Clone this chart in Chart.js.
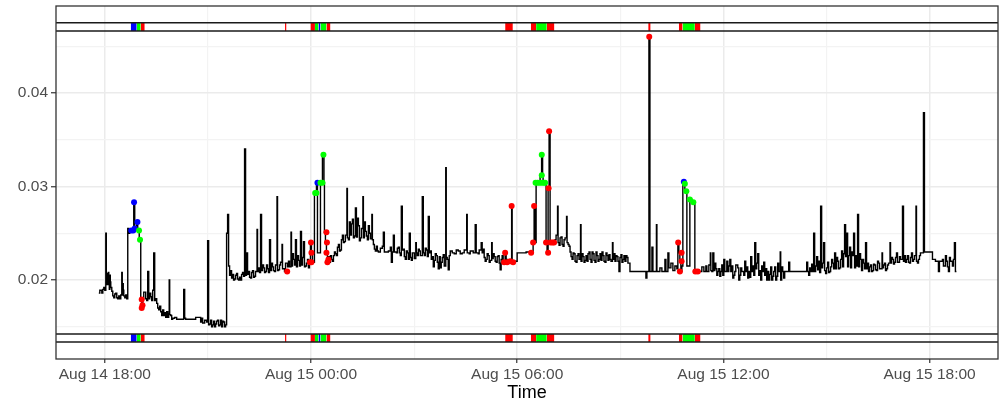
<!DOCTYPE html>
<html>
<head>
<meta charset="utf-8">
<script src="https://cdn.jsdelivr.net/npm/chart.js@4.4.0/dist/chart.umd.min.js"></script>
<style>
html,body{margin:0;padding:0;background:#ffffff;}
#wrap{width:1002px;height:404px;position:relative;}
</style>
</head>
<body>
<div id="wrap"><canvas id="c" width="1002" height="404"></canvas></div>
<script>
// Time axis: hours since Aug 14 00:00 (sample times; sorted before plotting)
const timeH = [
17.826,17.855,17.913,17.942,18.000,18.029,18.044,18.058,18.087,18.116,
18.131,18.145,18.174,18.203,18.232,18.290,18.348,18.406,18.435,18.465,
18.494,18.508,18.523,18.552,18.581,18.668,18.697,18.726,18.842,18.871,
18.929,18.958,19.002,19.031,19.046,19.075,19.104,19.191,19.249,19.278,
19.336,19.423,19.452,19.510,19.539,19.627,19.714,19.859,19.874,19.888,
19.975,20.295,20.324,20.789,20.818,20.963,20.992,21.021,21.079,21.108,
21.166,21.195,21.253,21.312,21.370,21.399,21.457,21.486,21.515,21.544,
21.573,21.602,21.631,21.660,21.689,21.747,21.805,21.863,21.921,21.951,
22.009,22.038,22.067,22.096,22.125,22.154,22.212,22.270,22.328,22.386,
22.430,22.444,22.473,22.532,22.561,22.619,22.677,22.735,22.793,22.822,
22.880,22.938,23.011,23.026,23.084,23.157,23.171,23.229,23.316,23.345,
23.418,23.432,23.490,23.548,23.577,23.636,23.694,23.723,23.781,23.810,
23.868,23.926,23.955,23.984,24.013,24.042,24.100,24.159,24.188,24.246,
24.275,24.333,24.377,24.391,24.420,24.449,24.478,24.507,24.595,24.653,
24.711,24.769,24.827,24.885,24.943,25.001,25.045,25.059,25.117,25.147,
25.205,25.234,25.292,25.321,25.379,25.408,25.466,25.510,25.524,25.582,
25.640,25.698,25.771,25.786,25.844,25.931,26.018,26.105,26.134,26.251,
26.338,26.367,26.396,26.425,26.512,26.570,26.628,26.657,26.715,26.773,
26.831,26.860,26.890,26.948,27.006,27.049,27.064,27.151,27.238,27.267,
27.354,27.413,27.442,27.529,27.587,27.645,27.703,27.732,27.790,27.848,
27.921,27.935,27.993,28.022,28.110,28.284,28.400,28.531,28.546,28.633,
28.720,28.778,28.807,28.894,28.952,28.981,29.039,29.097,29.156,29.214,
29.257,29.272,29.330,29.359,29.417,29.504,29.533,29.591,29.649,29.707,
29.766,29.838,29.853,29.911,29.998,30.259,30.376,30.463,30.492,30.521,
30.550,30.666,30.710,30.739,30.753,30.840,30.869,30.899,30.928,30.957,
31.015,31.073,31.131,31.174,31.189,31.247,31.305,31.363,31.436,31.451,
31.509,31.567,31.625,31.683,31.741,31.799,31.843,31.857,31.915,31.973,
32.061,32.119,32.177,32.235,32.322,32.380,32.467,32.525,32.612,32.700,
32.772,32.787,32.874,32.961,32.990,33.077,33.164,33.281,33.745,33.774,
33.833,33.862,33.920,33.949,34.051,34.065,34.152,34.210,34.298,34.327,
34.385,34.414,34.472,34.530,34.588,34.646,34.675,34.704,34.733,34.762,
34.791,34.820,34.878,34.937,35.024,35.082,35.169,35.489,35.518,35.620,
35.634,35.692,35.721,35.779,35.837,35.895,35.924,36.011,36.040,36.099,
36.128,36.186,36.215,36.273,36.331,36.418,36.476,36.534,36.621,36.650,
36.708,36.737,36.795,36.825,36.912,36.941,36.999,37.028,37.086,37.144,
37.173,37.202,37.260,37.289,37.348,37.406,37.464,37.522,37.580,37.609,
37.653,37.667,37.725,37.900,37.929,38.423,38.452,38.510,38.539,38.626,
38.655,38.713,38.742,38.829,38.858,38.916,38.945,39.003,39.062,39.120,
39.178,39.236,39.265,39.323,39.381,39.439,39.468,39.526,39.555,39.584,
39.614,39.672,39.701,39.759,39.788,39.817,39.904,39.933,39.991,40.020,
40.078,40.136,40.165,40.253,40.311,40.369,40.427,40.485,40.543,40.616,
40.630,40.688,40.746,40.804,40.848,40.863,40.921,40.979,41.037,41.124,
41.211,41.240,41.327,41.386,41.473,41.502,41.604,41.618,41.676,41.734,
41.821,41.850,42.083,42.170,42.257,42.286,42.373,42.461,42.490,42.548,
42.606,42.722,42.751,42.780,
// additional samples
17.971,18.073,18.102,18.160,18.261,18.319,18.377,18.537,18.610,18.639,
19.133,19.220,19.307,19.365,19.394,19.481,19.568,19.597,19.656,19.685,
19.743,19.772,19.801,19.830,19.917,19.946,20.033,20.091,20.353,20.498,
20.644,20.847,20.905,21.050,21.137,21.224,21.282,21.341,21.428,
21.718,21.776,21.834,21.892,21.980,
22.183,22.241,22.299,22.357,22.503,22.590,22.648,22.706,22.764,22.851,
22.909,22.967,23.055,23.113,23.200,23.258,23.374,23.461,23.519,23.606,
23.665,23.752,23.839,23.897,
24.537,24.566,24.624,24.682,24.740,24.798,24.856,24.914,24.972,25.088,
25.176,25.263,25.350,25.437,25.553,25.611,25.669,25.728,25.815,25.873,
25.902,25.960,26.076,26.193,26.309,
26.483,26.541,26.599,26.686,26.744,26.802,26.919,26.977,27.093,27.122,
27.180,27.296,27.325,27.384,27.471,27.500,27.558,27.616,27.674,27.761,
27.819,27.877,27.964,28.052,28.168,28.226,28.342,28.458,28.604,28.865,
29.010,29.068,29.126,29.185,29.301,29.388,29.446,29.475,29.562,29.620,
29.678,29.737,
31.102,31.218,31.276,31.334,31.392,31.480,31.538,31.596,31.654,31.712,
31.770,31.886,31.944,32.002,32.032,32.090,32.148,32.206,32.264,32.293,
32.351,32.409,32.438,32.496,32.554,32.583,32.641,32.670,32.729,32.816,
32.845,32.903,32.932,33.019,33.048,33.106,33.135,33.193,33.222,
35.372,35.431,35.576,35.663,35.750,35.808,35.866,35.953,35.982,36.069,
36.157,36.244,36.302,36.360,36.447,36.505,36.592,36.679,36.766,36.854,
36.883,36.970,37.057,37.115,37.231,37.318,37.377,37.435,37.493,37.551,
37.696,37.754,37.783,
38.481,38.568,38.597,38.684,38.771,38.800,38.887,38.974,39.033,39.091,
39.149,39.207,39.294,39.352,39.410,39.497,39.643,39.730,39.846,39.875,
39.962,40.049,40.107,40.194,40.223,40.282,40.340,40.398,40.456,40.514,
40.572,40.659,40.717,40.775,40.892,40.950,41.008,41.066,41.153,41.269,
41.298,41.357,41.415,41.444,41.531,41.560,41.647,41.705,
42.402,42.519,42.577,42.664,42.693
];
const conc = [
0.0186,0.0189,0.0186,0.0190,0.0189,0.0250,0.0195,0.0207,0.0195,0.0200,
0.0190,0.0205,0.0192,0.0188,0.0183,0.0185,0.0181,0.0183,0.0180,0.0184,
0.0208,0.0184,0.0196,0.0183,0.0181,0.0255,0.0250,0.0253,0.0283,0.0255,
0.0262,0.0253,0.0245,0.0243,0.0180,0.0171,0.0180,0.0180,0.0209,0.0180,
0.0182,0.0229,0.0178,0.0175,0.0170,0.0166,0.0162,0.0164,0.0200,0.0163,
0.0159,0.0190,0.0159,0.0155,0.0159,0.0155,0.0242,0.0152,0.0157,0.0150,
0.0156,0.0150,0.0156,0.0151,0.0157,0.0150,0.0155,0.0150,0.0152,0.0250,
0.0270,0.0215,0.0205,0.0210,0.0202,0.0200,0.0205,0.0201,0.0203,0.0200,
0.0208,0.0204,0.0340,0.0205,0.0229,0.0206,0.0203,0.0208,0.0203,0.0209,
0.0254,0.0209,0.0213,0.0270,0.0210,0.0213,0.0209,0.0212,0.0243,0.0210,
0.0214,0.0209,0.0289,0.0210,0.0216,0.0238,0.0212,0.0209,0.0214,0.0220,
0.0251,0.0215,0.0222,0.0243,0.0214,0.0221,0.0252,0.0216,0.0241,0.0214,
0.0218,0.0213,0.0219,0.0240,0.0229,0.0219,0.0293,0.0304,0.0229,0.0229,
0.0304,0.0334,0.0304,0.0251,0.0240,0.0229,0.0219,0.0225,0.0222,0.0226,
0.0228,0.0235,0.0231,0.0243,0.0240,0.0248,0.0298,0.0245,0.0262,0.0248,
0.0265,0.0245,0.0277,0.0246,0.0258,0.0242,0.0255,0.0289,0.0245,0.0252,
0.0243,0.0250,0.0270,0.0243,0.0233,0.0231,0.0234,0.0251,0.0230,0.0231,
0.0219,0.0230,0.0248,0.0230,0.0234,0.0229,0.0279,0.0232,0.0225,0.0231,
0.0222,0.0250,0.0224,0.0229,0.0223,0.0240,0.0229,0.0231,0.0289,0.0229,
0.0232,0.0268,0.0229,0.0225,0.0221,0.0226,0.0212,0.0225,0.0219,0.0227,
0.0320,0.0224,0.0211,0.0226,0.0229,0.0231,0.0229,0.0270,0.0229,0.0231,
0.0229,0.0259,0.0229,0.0232,0.0240,0.0229,0.0224,0.0222,0.0226,0.0221,
0.0240,0.0223,0.0225,0.0220,0.0225,0.0211,0.0222,0.0219,0.0229,0.0219,
0.0218,0.0279,0.0219,0.0220,0.0229,0.0230,0.0229,0.0240,0.0279,0.0240,
0.0304,0.0312,0.0334,0.0312,0.0304,0.0240,0.0229,0.0298,0.0359,0.0240,
0.0242,0.0240,0.0248,0.0279,0.0240,0.0245,0.0238,0.0243,0.0268,0.0240,
0.0236,0.0225,0.0229,0.0220,0.0226,0.0222,0.0259,0.0220,0.0225,0.0221,
0.0228,0.0222,0.0230,0.0221,0.0226,0.0222,0.0230,0.0220,0.0226,0.0222,
0.0240,0.0222,0.0226,0.0209,0.0224,0.0222,0.0226,0.0209,0.0202,0.0209,
0.0460,0.0209,0.0235,0.0209,0.0259,0.0209,0.0213,0.0209,0.0222,0.0209,
0.0229,0.0213,0.0218,0.0210,0.0215,0.0212,0.0240,0.0229,0.0220,0.0209,
0.0215,0.0304,0.0295,0.0215,0.0286,0.0283,0.0209,0.0215,0.0209,0.0229,
0.0210,0.0229,0.0210,0.0212,0.0209,0.0204,0.0209,0.0222,0.0209,0.0220,
0.0209,0.0222,0.0209,0.0202,0.0209,0.0213,0.0205,0.0209,0.0220,0.0209,
0.0202,0.0209,0.0225,0.0209,0.0240,0.0212,0.0228,0.0205,0.0200,0.0209,
0.0219,0.0205,0.0200,0.0209,0.0206,0.0200,0.0209,0.0200,0.0218,0.0209,
0.0230,0.0200,0.0209,0.0219,0.0209,0.0219,0.0209,0.0213,0.0209,0.0250,
0.0209,0.0225,0.0211,0.0279,0.0213,0.0240,0.0210,0.0213,0.0208,0.0214,
0.0218,0.0229,0.0212,0.0220,0.0213,0.0231,0.0214,0.0259,0.0225,0.0250,
0.0214,0.0235,0.0213,0.0226,0.0250,0.0213,0.0270,0.0214,0.0222,0.0210,
0.0218,0.0240,0.0212,0.0214,0.0209,0.0217,0.0211,0.0220,0.0212,0.0229,
0.0213,0.0218,0.0212,0.0218,0.0240,0.0218,0.0222,0.0219,0.0229,0.0225,
0.0279,0.0220,0.0222,0.0219,0.0229,0.0220,0.0279,0.0220,0.0222,0.0229,
0.0379,0.0230,0.0222,0.0220,0.0209,0.0220,0.0222,0.0226,0.0220,0.0209,
0.0220,0.0240,0.0209,0.0209,
// additional samples
0.0192,0.0200,0.0208,0.0198,0.0181,0.0186,0.0180,0.0189,0.0184,0.0180,
0.0187,0.0178,0.0186,0.0178,0.0189,0.0180,0.0168,0.0172,0.0162,0.0168,
0.0165,0.0160,0.0166,0.0160,0.0162,0.0158,0.0160,0.0158,0.0158,0.0158,
0.0160,0.0154,0.0157,0.0153,0.0152,0.0153,0.0157,0.0152,0.0156,
0.0206,0.0201,0.0207,0.0200,0.0206,
0.0209,0.0202,0.0210,0.0204,0.0208,0.0216,0.0208,0.0216,0.0208,0.0218,
0.0210,0.0216,0.0211,0.0219,0.0212,0.0218,0.0214,0.0228,0.0216,0.0226,
0.0215,0.0224,0.0215,0.0222,
0.0219,0.0226,0.0220,0.0230,0.0226,0.0238,0.0232,0.0248,0.0241,0.0243,
0.0260,0.0247,0.0266,0.0245,0.0262,0.0247,0.0258,0.0244,0.0238,0.0231,
0.0236,0.0230,0.0236,0.0230,0.0235,
0.0229,0.0235,0.0226,0.0233,0.0222,0.0229,0.0221,0.0229,0.0226,0.0233,
0.0226,0.0226,0.0234,0.0225,0.0231,0.0222,0.0214,0.0228,0.0219,0.0213,
0.0224,0.0215,0.0222,0.0231,0.0228,0.0232,0.0228,0.0232,0.0228,0.0228,
0.0233,0.0220,0.0228,0.0219,0.0228,0.0219,0.0226,0.0218,0.0226,0.0218,
0.0222,0.0219,
0.0243,0.0237,0.0246,0.0236,0.0245,0.0238,0.0230,0.0222,0.0228,0.0219,
0.0228,0.0228,0.0219,0.0226,0.0220,0.0230,0.0219,0.0228,0.0219,0.0230,
0.0220,0.0228,0.0221,0.0226,0.0219,0.0229,0.0221,0.0227,0.0220,0.0228,
0.0220,0.0225,0.0220,0.0227,0.0219,0.0226,0.0220,0.0224,0.0218,
0.0214,0.0209,0.0216,0.0209,0.0218,0.0205,0.0212,0.0216,0.0205,0.0209,
0.0215,0.0215,0.0205,0.0216,0.0200,0.0213,0.0205,0.0214,0.0203,0.0215,
0.0205,0.0218,0.0210,0.0215,0.0212,0.0200,0.0214,0.0204,0.0214,0.0204,
0.0214,0.0202,0.0209,
0.0205,0.0217,0.0209,0.0215,0.0220,0.0208,0.0218,0.0207,0.0219,0.0209,
0.0222,0.0212,0.0224,0.0212,0.0222,0.0228,0.0226,0.0230,0.0226,0.0215,
0.0228,0.0222,0.0212,0.0218,0.0209,0.0216,0.0210,0.0216,0.0210,0.0218,
0.0212,0.0216,0.0210,0.0216,0.0224,0.0217,0.0224,0.0219,0.0222,0.0226,
0.0219,0.0226,0.0218,0.0224,0.0222,0.0226,0.0218,0.0226,
0.0215,0.0214,0.0224,0.0215,0.0222
];

// Flagged points
const blueT  = [18.770,18.828,18.871,18.851,18.950,24.188,34.849];
const blueV  = [0.0253,0.0253,0.0255,0.0283,0.0262,0.0304,0.0305];
const greenT = [18.996,19.025,24.121,24.159,24.275,24.333,24.362,30.535,30.593,30.651,30.710,30.768,30.811,30.715,30.715,34.878,34.921,35.024,35.125];
const greenV = [0.0253,0.0243,0.0293,0.0293,0.0304,0.0304,0.0334,0.0304,0.0304,0.0304,0.0304,0.0304,0.0304,0.0312,0.0334,0.0303,0.0295,0.0286,0.0283];
const redT   = [19.074,19.074,19.097,23.307,23.999,24.013,24.013,23.970,24.449,24.464,24.449,24.478,24.507,29.649,29.620,29.707,29.795,29.882,29.838,30.405,30.463,30.492,30.913,30.928,30.840,30.899,30.971,31.029,31.073,33.842,34.684,34.783,34.783,34.733,35.183,35.256];
const redV   = [0.0179,0.0170,0.0173,0.0209,0.0240,0.0229,0.0219,0.0219,0.0251,0.0240,0.0229,0.0219,0.0222,0.0229,0.0219,0.0219,0.0220,0.0219,0.0279,0.0229,0.0240,0.0279,0.0298,0.0359,0.0240,0.0229,0.0240,0.0240,0.0240,0.0460,0.0240,0.0229,0.0220,0.0209,0.0209,0.0209];

// Event strips (start/end hours and class)
const stripStart = [18.755,18.929,19.046,23.244,23.984,24.115,24.217,24.275,24.449,29.649,30.396,30.550,30.861,33.812,34.704,34.811,35.169];
const stripEnd   = [18.929,19.046,19.162,23.287,24.115,24.217,24.275,24.449,24.566,29.873,30.550,30.861,31.082,33.882,34.811,35.169,35.334];
const stripClass = ['blue','green','red','red','red','green','blue','green','red','red','red','green','red','red','red','green','red'];
const topBand    = [0.04663, 0.04752];
const bottomBand = [0.01337, 0.01422];

// Axes
const xRange = [16.58, 43.99];
const yRange = [0.01155, 0.0493];
const xTickHours  = [18, 24, 30, 36, 42];
const xTickLabels = ['Aug 14 18:00','Aug 15 00:00','Aug 15 06:00','Aug 15 12:00','Aug 15 18:00'];
const xMinorHours = [21, 27, 33, 39];
const yTicks      = [0.02, 0.03, 0.04];
const yMinor      = [0.015, 0.025, 0.035, 0.045];

const COLORS = {blue:'#0000FF', green:'#00FF00', red:'#FF0000'};
const FONT = "'Liberation Sans', Arial, Helvetica, sans-serif";

const datasets = [];
function pts(T, V) { return T.map((t, i) => ({x: t, y: V[i]})); }
[['blue', blueT, blueV], ['green', greenT, greenV], ['red', redT, redV]].forEach(([k, T, V]) => {
  datasets.push({
    data: pts(T, V), showLine: false, pointRadius: 3, pointHoverRadius: 3,
    pointBackgroundColor: COLORS[k], pointBorderWidth: 0, pointBorderColor: COLORS[k],
    order: k === 'red' ? 0 : (k === 'green' ? 1 : 2)
  });
});
const series = pts(timeH, conc).sort((a, b) => a.x - b.x);
datasets.push({
  data: series, borderColor: '#000000', borderWidth: 1.4, pointRadius: 0,
  stepped: true, fill: false, order: 5
});
[topBand, bottomBand].forEach(band => {
  band.forEach(v => {
    datasets.push({
      data: [{x: xRange[0], y: v}, {x: xRange[1], y: v}],
      borderColor: '#1A1A1A', borderWidth: 1.5, pointRadius: 0, fill: false, order: 6
    });
  });
  stripStart.forEach((s, i) => {
    const col = COLORS[stripClass[i]];
    datasets.push({
      data: [{x: s, y: band[1]}, {x: stripEnd[i], y: band[1]}],
      borderWidth: 0, borderColor: col, backgroundColor: col, pointRadius: 0,
      fill: {target: {value: band[0]}, above: col, below: col}, order: 10
    });
  });
});

const panelBorder = {
  id: 'panelBorder',
  afterDatasetsDraw(chart) {
    const {ctx, chartArea: a} = chart;
    ctx.save();
    ctx.strokeStyle = '#333333';
    ctx.lineWidth = 1.3;
    ctx.strokeRect(a.left, a.top, a.right - a.left, a.bottom - a.top);
    ctx.restore();
  }
};

const isMajor = (arr, v) => arr.some(m => Math.abs(m - v) < 1e-9);

new Chart(document.getElementById('c'), {
  type: 'line',
  data: {datasets},
  plugins: [panelBorder],
  options: {
    responsive: false, animation: false, devicePixelRatio: 1,
    layout: {autoPadding: false, padding: {left: 0, right: 4, top: 6, bottom: 0}},
    plugins: {legend: {display: false}, tooltip: {enabled: false}},
    scales: {
      x: {
        type: 'linear', min: xRange[0], max: xRange[1],
        afterBuildTicks: s => { s.ticks = xTickHours.concat(xMinorHours).sort((a, b) => a - b).map(v => ({value: v})); },
        afterFit: s => { s.height = 45; s.paddingLeft = 0; s.paddingRight = 0; },
        border: {display: false},
        grid: {
          color: c => (c.tick && isMajor(xTickHours, c.tick.value)) ? '#EBEBEB' : '#F3F3F3',
          lineWidth: c => (c.tick && isMajor(xTickHours, c.tick.value)) ? 1.5 : 1.2,
          tickColor: c => (c.tick && isMajor(xTickHours, c.tick.value)) ? '#333333' : 'rgba(0,0,0,0)',
          tickLength: 4, tickWidth: 1.2
        },
        ticks: {
          autoSkip: false, maxRotation: 0, padding: 2, color: '#4D4D4D',
          font: {family: FONT, size: 15.5},
          callback: v => { const i = xTickHours.findIndex(m => Math.abs(m - v) < 1e-9); return i >= 0 ? xTickLabels[i] : ''; }
        },
        title: {display: true, text: 'Time', color: '#000000', font: {family: FONT, size: 18}, padding: {top: 0, bottom: 0}}
      },
      y: {
        type: 'linear', min: yRange[0], max: yRange[1],
        afterBuildTicks: s => { s.ticks = yTicks.concat(yMinor).sort((a, b) => a - b).map(v => ({value: v})); },
        afterFit: s => { s.width = 56; s.paddingTop = 0; s.paddingBottom = 0; },
        border: {display: false},
        grid: {
          color: c => (c.tick && isMajor(yTicks, c.tick.value)) ? '#EBEBEB' : '#F3F3F3',
          lineWidth: c => (c.tick && isMajor(yTicks, c.tick.value)) ? 1.5 : 1.2,
          tickColor: c => (c.tick && isMajor(yTicks, c.tick.value)) ? '#333333' : 'rgba(0,0,0,0)',
          tickLength: 5, tickWidth: 1.2
        },
        ticks: {
          autoSkip: false, padding: 3, color: '#4D4D4D',
          font: {family: FONT, size: 15.5},
          callback: v => isMajor(yTicks, v) ? v.toFixed(2) : ''
        }
      }
    }
  }
});
</script>
</body>
</html>
